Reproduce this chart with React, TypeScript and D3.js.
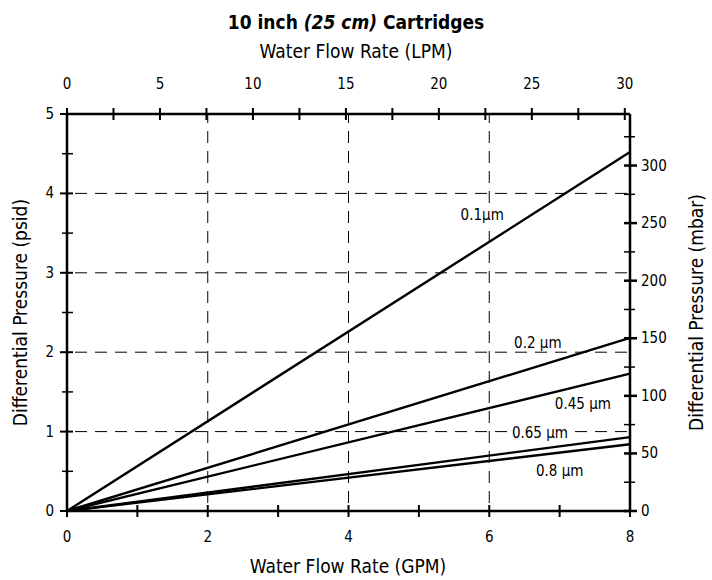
import React from "react";
import * as d3 from "d3";

const seriesNames = ["0.1µm", "0.2 µm", "0.45 µm", "0.65 µm", "0.8 µm"];
const flowGpm = [0, 8];
const dp01 = [0, 4.52];
const dp02 = [0, 2.18];
const dp045 = [0, 1.73];
const dp065 = [0, 0.93];
const dp08 = [0, 0.84];
const seriesValues = [dp01, dp02, dp045, dp065, dp08];
const labelAt = [
  [5.9, 3.73],
  [6.69, 2.12],
  [7.33, 1.35],
  [6.72, 0.98],
  [7.0, 0.5],
];
const gpmTicks = [0, 2, 4, 6, 8];
const gpmMinor = [1, 3, 5, 7];
const lpmTicks = [0, 5, 10, 15, 20, 25, 30];
const lpmMinor = [2.5, 7.5, 12.5, 17.5, 22.5, 27.5];
const psiTicks = [0, 1, 2, 3, 4, 5];
const psiMinor = [0.5, 1.5, 2.5, 3.5, 4.5];
const mbarTicks = [0, 50, 100, 150, 200, 250, 300];
const mbarMinor = [25, 75, 125, 175, 225, 275, 325];
const gridPsi = [1, 2, 3, 4];
const gridGpm = [2, 4, 6];

const FONT = "'DejaVu Sans Condensed', 'Liberation Sans Narrow', 'DejaVu Sans', sans-serif";

export default function App() {
  const W = 712, H = 580;
  const x0 = 67, x1 = 630, y0 = 511, y1 = 114;
  const x = d3.scaleLinear().domain([0, 8]).range([x0, x1]);
  const xl = d3.scaleLinear().domain([0, 8 * 3.785]).range([x0, x1]);
  const y = d3.scaleLinear().domain([0, 5]).range([y0, y1]);
  const ym = d3.scaleLinear().domain([0, 5 * 68.95]).range([y0, y1]);
  const line = d3.line<number>().x((_, i) => x(flowGpm[i])).y((d) => y(d));
  const tk = 6;
  return (
    <svg width={W} height={H} style={{ position: "absolute", left: 0, top: 0, background: "#fff" }} fontFamily={FONT}>
      <text x={356} y={29} textAnchor="middle" fontSize={19} fontWeight="bold">
        10 inch <tspan fontStyle="italic">(25 cm)</tspan> Cartridges
      </text>
      <text x={356} y={58} textAnchor="middle" fontSize={19}>Water Flow Rate (LPM)</text>
      {gridPsi.map((v) => (
        <line key={"gy" + v} x1={x0} x2={x1} y1={y(v)} y2={y(v)} stroke="#000" strokeWidth={1} strokeDasharray="12,8" strokeDashoffset={-8} />
      ))}
      {gridGpm.map((v) => (
        <line key={"gx" + v} x1={x(v)} x2={x(v)} y1={y0} y2={y1} stroke="#000" strokeWidth={1} strokeDasharray="12,8" strokeDashoffset={-8} />
      ))}
      {seriesNames.map((n, i) => {
        const tx = x(labelAt[i][0]);
        const ty = y(labelAt[i][1]);
        const w = n.length * 6.6;
        return (
          <rect key={"lb" + i} x={tx - w / 2 - 3} y={ty - 9} width={w + 6} height={17} fill="#fff" />
        );
      })}
      {seriesValues.map((s, i) => (
        <path key={"s" + i} d={line(s) || ""} fill="none" stroke="#000" strokeWidth={2.4} />
      ))}
      {seriesNames.map((n, i) => (
        <text key={"l" + i} x={x(labelAt[i][0])} y={y(labelAt[i][1]) + 5} textAnchor="middle" fontSize={15}>{n}</text>
      ))}
      {/* frame */}
      <line x1={x0} x2={x1} y1={y0} y2={y0} stroke="#000" strokeWidth={2.5} />
      <line x1={x0} x2={x1} y1={y1} y2={y1} stroke="#000" strokeWidth={2.5} />
      <line x1={x0} x2={x0} y1={y0} y2={y1} stroke="#000" strokeWidth={2.5} />
      <line x1={x1} x2={x1} y1={y0} y2={y1} stroke="#000" strokeWidth={2.5} />
      {/* bottom axis */}
      {[...gpmTicks, ...gpmMinor].map((v) => (
        <line key={"bt" + v} x1={x(v)} x2={x(v)} y1={y0 - tk} y2={y0 + tk} stroke="#000" strokeWidth={2} />
      ))}
      {gpmTicks.map((v) => (
        <text key={"bl" + v} x={x(v)} y={542} textAnchor="middle" fontSize={15}>{v}</text>
      ))}
      <text x={348} y={573} textAnchor="middle" fontSize={19}>Water Flow Rate (GPM)</text>
      {/* top axis */}
      {[...lpmTicks, ...lpmMinor].map((v) => (
        <line key={"tt" + v} x1={xl(v)} x2={xl(v)} y1={y1 - tk} y2={y1 + tk} stroke="#000" strokeWidth={2} />
      ))}
      {lpmTicks.map((v) => (
        <text key={"tl" + v} x={xl(v)} y={89} textAnchor="middle" fontSize={15}>{v}</text>
      ))}
      {/* left axis */}
      {psiTicks.map((v) => (
        <line key={"lt" + v} x1={x0 - tk - 1} x2={x0 + tk} y1={y(v)} y2={y(v)} stroke="#000" strokeWidth={2} />
      ))}
      {psiMinor.map((v) => (
        <line key={"lm" + v} x1={x0 - tk + 1} x2={x0 + tk} y1={y(v)} y2={y(v)} stroke="#000" strokeWidth={1.5} />
      ))}
      {psiTicks.map((v) => (
        <text key={"ll" + v} x={54} y={y(v) + 5} textAnchor="end" fontSize={15}>{v}</text>
      ))}
      <text transform={`translate(27,${(y0 + y1) / 2}) rotate(-90)`} textAnchor="middle" fontSize={19}>Differential Pressure (psid)</text>
      {/* right axis */}
      {mbarTicks.map((v) => (
        <line key={"rt" + v} x1={x1 - tk} x2={x1 + tk + 1} y1={ym(v)} y2={ym(v)} stroke="#000" strokeWidth={2.5} />
      ))}
      {mbarMinor.map((v) => (
        <line key={"rm" + v} x1={x1 - tk} x2={x1 + tk - 1} y1={ym(v)} y2={ym(v)} stroke="#000" strokeWidth={1.5} />
      ))}
      {mbarTicks.map((v) => (
        <text key={"rl" + v} x={641} y={ym(v) + 5} textAnchor="start" fontSize={15}>{v}</text>
      ))}
      <text transform={`translate(703,${(y0 + y1) / 2}) rotate(-90)`} textAnchor="middle" fontSize={19}>Differential Pressure (mbar)</text>
    </svg>
  );
}
